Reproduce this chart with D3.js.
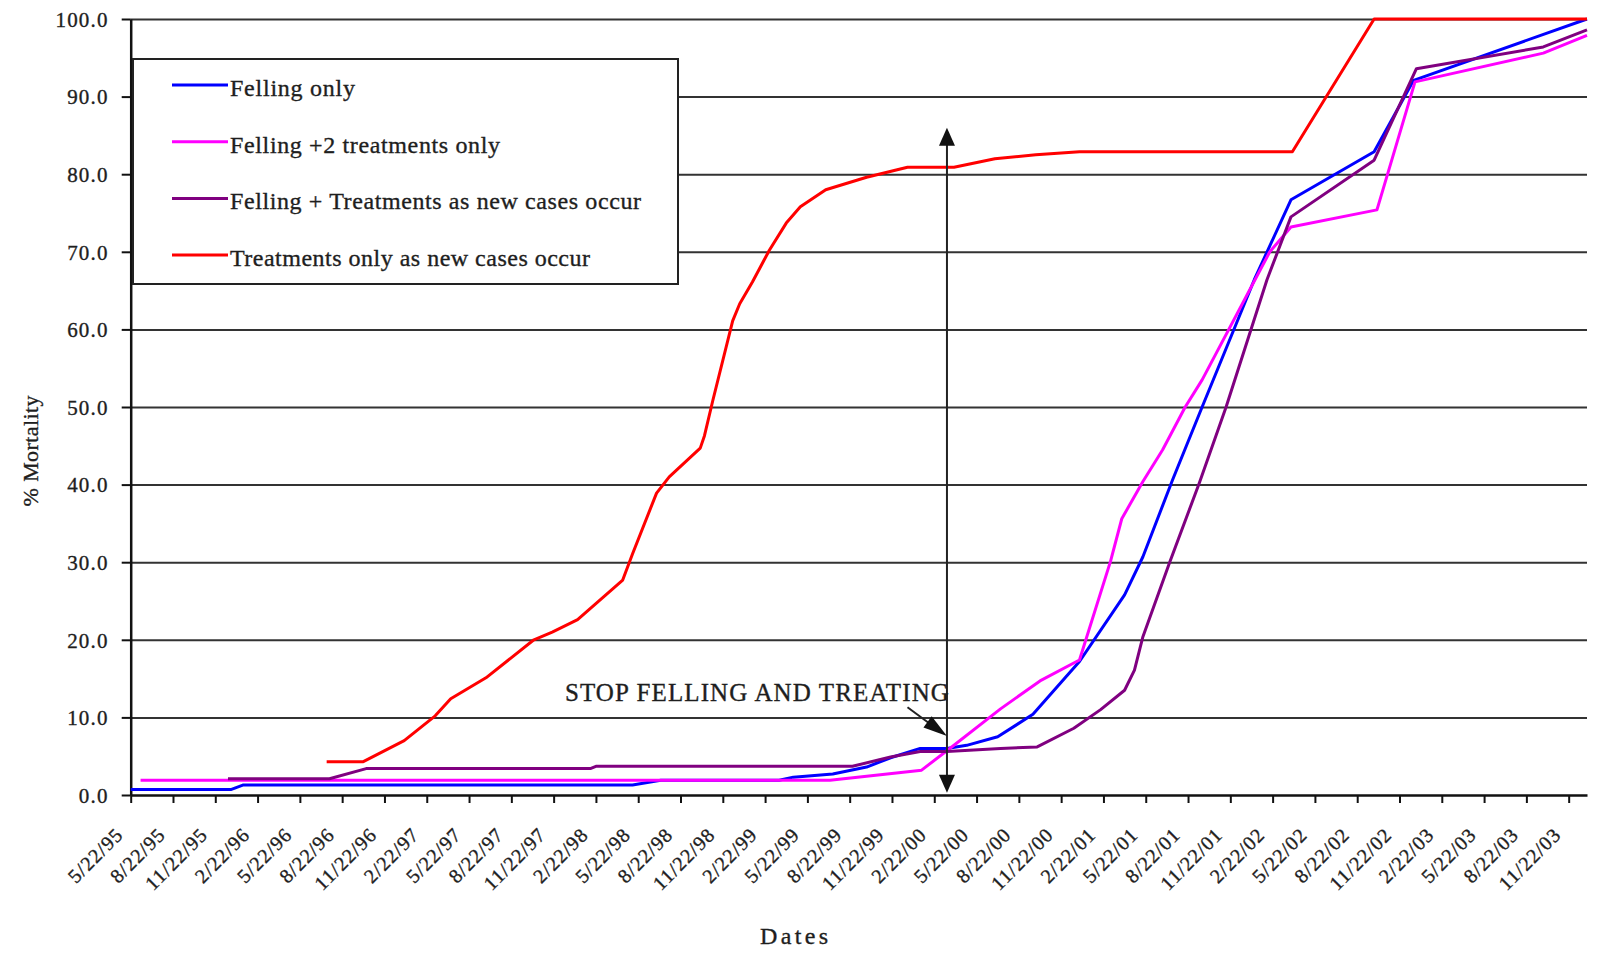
<!DOCTYPE html>
<html lang="en">
<head>
<meta charset="UTF-8">
<title>% Mortality</title>
<script src="https://d3js.org/d3.v7.min.js"></script>
<style>
  body { margin: 0; background: #ffffff; }
  text { font-family: 'Liberation Serif', 'Times New Roman', serif; fill: #1e1e1e;
         stroke: #1e1e1e; stroke-width: 0.35px; }
</style>
</head>
<body>
<div id="chart"></div>
<script>
// x values are months counted from 5/22/95
const tickLabels = ['5/22/95', '8/22/95', '11/22/95',
  '2/22/96', '5/22/96', '8/22/96', '11/22/96',
  '2/22/97', '5/22/97', '8/22/97', '11/22/97',
  '2/22/98', '5/22/98', '8/22/98', '11/22/98',
  '2/22/99', '5/22/99', '8/22/99', '11/22/99',
  '2/22/00', '5/22/00', '8/22/00', '11/22/00',
  '2/22/01', '5/22/01', '8/22/01', '11/22/01',
  '2/22/02', '5/22/02', '8/22/02', '11/22/02',
  '2/22/03', '5/22/03', '8/22/03', '11/22/03'];
const yTicks = [0, 10, 20, 30, 40, 50, 60, 70, 80, 90, 100];

const seriesNames = ['Felling only', 'Felling +2 treatments only',
  'Felling + Treatments as new cases occur', 'Treatments only as new cases occur'];

const fellingOnly = [[0, 0.7], [7.1, 0.7], [8.0, 1.3], [35.6, 1.3], [37.6, 1.9], [46, 1.9],
  [47, 2.3], [49.8, 2.7], [52.2, 3.6], [53.9, 4.8], [56, 6.0], [57.9, 6.0], [59.3, 6.4],
  [61.5, 7.5], [64, 10.4], [67.3, 17.2], [70.5, 25.8], [71.8, 30.7], [73.9, 40.6],
  [76.0, 50.0], [79.7, 66.4], [82.3, 76.7], [88.2, 82.9], [91.0, 92.1], [103.3, 100]];

const fellingTwoTreatments = [[0.7, 1.9], [49.6, 1.9], [56.1, 3.2], [58.1, 6.0], [61.7, 11.1],
  [64.5, 14.7], [67.3, 17.4], [69.5, 30.1], [70.3, 35.6], [71.8, 40.4], [73.2, 44.5],
  [74.8, 50.0], [76.0, 53.5], [80.8, 70.0], [82.3, 73.2], [88.4, 75.4], [91.1, 91.9],
  [100.2, 95.6], [103.3, 97.9]];

const fellingNewCases = [[6.9, 2.1], [14.1, 2.1], [16.7, 3.4], [32.6, 3.4], [33.0, 3.7],
  [51.2, 3.7], [53.9, 4.9], [56, 5.6], [57.9, 5.6], [61.7, 6.0], [64.3, 6.2], [66.9, 8.6],
  [68.8, 11.0], [70.5, 13.5], [71.2, 16.1], [71.8, 20.4], [73.7, 30.0], [75.8, 40.2],
  [77.7, 50.0], [80.6, 66.4], [82.3, 74.5], [88.2, 81.8], [91.2, 93.6], [100.2, 96.4],
  [103.3, 98.6]];

const treatmentsNewCases = [[13.9, 4.3], [16.5, 4.3], [19.4, 7.0], [21.6, 10.2], [22.7, 12.4],
  [25.2, 15.1], [28.6, 20.0], [29.9, 21.0], [31.7, 22.6], [34.9, 27.7], [35.6, 31.1],
  [37.3, 38.9], [38.2, 41.0], [40.4, 44.7], [40.7, 46.3], [41.3, 50.9], [42.7, 61.1],
  [43.2, 63.3], [44.1, 66.1], [45.3, 70.2], [46.5, 73.7], [47.5, 75.8], [49.3, 78.0],
  [52.2, 79.6], [55.1, 80.9], [58.4, 80.9], [61.3, 82.0], [64.2, 82.5], [67.3, 82.9],
  [82.4, 82.9], [88.2, 100], [103.3, 100]];

const allSeries = [fellingOnly, fellingTwoTreatments, fellingNewCases, treatmentsNewCases];
const seriesColors = ['#0000ff', '#ff00ff', '#800080', '#ff0000'];

// annotation, in data units
const stopLabel = 'STOP FELLING AND TREATING';
const stopMonth = 57.9;

const W = 1599, H = 955;
const plot = { left: 130.7, right: 1587, top: 19, bottom: 795 };

const svg = d3.select('#chart').append('svg')
  .attr('width', W).attr('height', H);

const x = d3.scaleLinear().domain([0, 103.3]).range([plot.left, plot.right]);
const y = d3.scaleLinear().domain([0, 100]).range([plot.bottom, plot.top]);

// horizontal grid
svg.append('g')
  .attr('transform', `translate(${plot.left},0)`)
  .call(d3.axisLeft(y).tickValues(yTicks.slice(1))
    .tickSize(-(plot.right - plot.left)).tickFormat(''))
  .call(g => g.select('.domain').remove())
  .selectAll('line').attr('stroke', '#333').attr('stroke-width', 2);

// y axis
const yAxis = svg.append('g')
  .attr('transform', `translate(${plot.left},0)`)
  .call(d3.axisLeft(y).tickValues(yTicks).tickSize(9).tickSizeOuter(0)
    .tickFormat(d3.format('.1f')));
yAxis.select('.domain').attr('stroke', '#111').attr('stroke-width', 2.5);
yAxis.selectAll('line').attr('stroke', '#111').attr('stroke-width', 2);
yAxis.selectAll('text')
  .attr('x', -22).attr('dy', '0.35em')
  .style('font-size', '21px').style('letter-spacing', '1.2px')
  .style('font-family', "'Liberation Serif', serif").attr('fill', '#1e1e1e');

// x axis
const xAxis = svg.append('g')
  .attr('transform', `translate(0,${plot.bottom})`)
  .call(d3.axisBottom(x).tickValues(d3.range(0, tickLabels.length * 3, 3))
    .tickSize(8).tickSizeOuter(0).tickFormat((d, i) => tickLabels[i]));
xAxis.select('.domain').attr('stroke', '#111').attr('stroke-width', 2.5);
xAxis.selectAll('line').attr('stroke', '#111').attr('stroke-width', 2);
xAxis.selectAll('text')
  .attr('x', 0).attr('y', 0).attr('dy', 0)
  .attr('text-anchor', 'end')
  .attr('transform', 'translate(-7,41) rotate(-45)')
  .style('font-size', '20px').style('letter-spacing', '1px')
  .style('font-family', "'Liberation Serif', serif").attr('fill', '#1e1e1e');

// series lines, first series underneath
const line = d3.line().x(d => x(d[0])).y(d => y(d[1]));
svg.append('g').selectAll('path')
  .data(allSeries)
  .join('path')
  .attr('d', line)
  .attr('fill', 'none')
  .attr('stroke', (d, i) => seriesColors[i])
  .attr('stroke-width', 3)
  .attr('stroke-linejoin', 'round');

// legend
const legend = svg.append('g');
legend.append('rect')
  .attr('x', 133).attr('y', 59).attr('width', 545).attr('height', 225)
  .attr('fill', '#fff').attr('stroke', '#222').attr('stroke-width', 2);
const legendWidths = [125, 270, 411, 360];
seriesNames.forEach((name, i) => {
  const ly = 85 + i * 56.7;
  legend.append('line')
    .attr('x1', 172).attr('x2', 228).attr('y1', ly).attr('y2', ly)
    .attr('stroke', seriesColors[i]).attr('stroke-width', 3);
  legend.append('text')
    .attr('x', 230).attr('y', ly + 11)
    .attr('textLength', legendWidths[i]).attr('lengthAdjust', 'spacing')
    .style('font-size', '24px')
    .text(name);
});

// arrowhead helper: tip point, direction pointing to tip
function head(tx, ty, dx, dy, len, half) {
  const n = Math.hypot(dx, dy), ux = dx / n, uy = dy / n;
  const bx = tx - ux * len, by = ty - uy * len;
  return `M${tx},${ty}L${bx - uy * half},${by + ux * half}L${bx + uy * half},${by - ux * half}Z`;
}

const ax = x(stopMonth);
const aTop = y(86), aBot = y(0.3);
svg.append('line')
  .attr('x1', ax).attr('x2', ax).attr('y1', aTop + 10).attr('y2', aBot - 10)
  .attr('stroke', '#222').attr('stroke-width', 2);
svg.append('path').attr('d', head(ax, aTop, 0, -1, 18, 8)).attr('fill', '#111');
svg.append('path').attr('d', head(ax, aBot, 0, 1, 18, 8)).attr('fill', '#111');

// pointer from label to the stop line
const p0 = [x(55.1), y(11.3)], p1 = [x(57.9), y(7.6)];
svg.append('line')
  .attr('x1', p0[0]).attr('y1', p0[1]).attr('x2', p1[0] - 10).attr('y2', p1[1] - 7)
  .attr('stroke', '#222').attr('stroke-width', 2);
svg.append('path')
  .attr('d', head(p1[0], p1[1], p1[0] - p0[0], p1[1] - p0[1], 24, 7))
  .attr('fill', '#111');

svg.append('text')
  .attr('x', x(30.8)).attr('y', y(12.1))
  .attr('textLength', 384).attr('lengthAdjust', 'spacing')
  .style('font-size', '25px')
  .text(stopLabel);

// axis titles
svg.append('text')
  .attr('transform', `translate(38,451) rotate(-90)`)
  .attr('text-anchor', 'middle')
  .attr('textLength', 111).attr('lengthAdjust', 'spacing')
  .style('font-size', '22px')
  .text('% Mortality');

svg.append('text')
  .attr('x', 794).attr('y', 944)
  .attr('text-anchor', 'middle')
  .attr('textLength', 68).attr('lengthAdjust', 'spacing')
  .style('font-size', '24px')
  .text('Dates');
</script>
</body>
</html>
